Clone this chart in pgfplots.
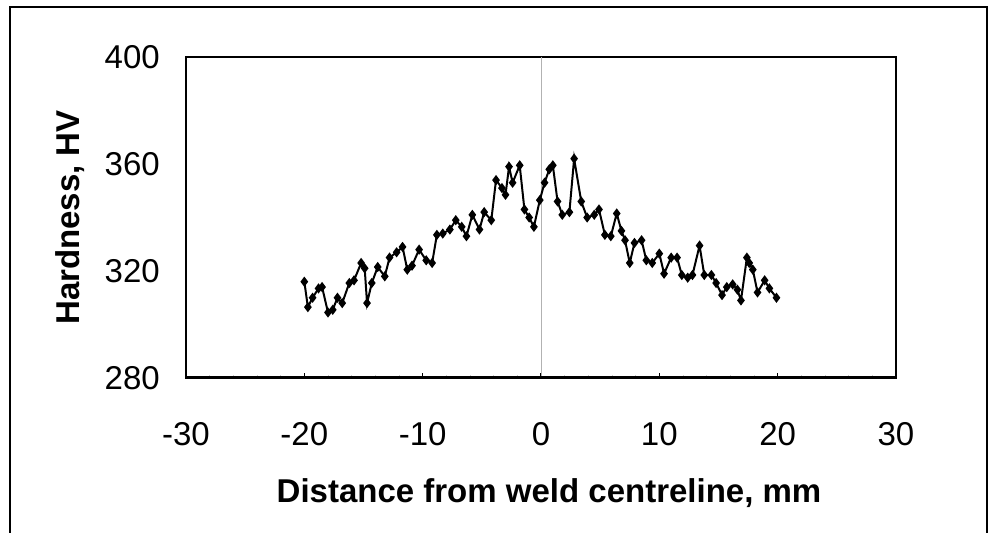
\documentclass[border=0pt]{standalone}
\usepackage{fontspec}
\setmainfont{Liberation Sans}
\usepackage{pgfplots}
\pgfplotsset{compat=1.18}
\begin{document}
\begin{tikzpicture}
\useasboundingbox (0,0) rectangle (997pt,533pt);
\draw[line width=2pt] (10pt,-5pt) -- (10pt,526pt) -- (987pt,526pt) -- (987pt,-5pt);
\begin{axis}[
  at={(186pt,155pt)}, anchor=south west,
  scale only axis, width=710pt, height=321pt,
  xmin=-30, xmax=30, ymin=280, ymax=400,
  xtick={-30,-20,...,30}, ytick={280,320,360,400},
  minor x tick num=4,
  axis line style={line width=2pt},
  major tick length=5pt, minor tick length=3pt,
  tick style={black, line width=1pt},
  minor tick style={gray!40, line width=0.6pt},
  ytick style={draw=none},
  tick align=inside,
  xtick pos=bottom,
  /pgf/number format/assume math mode=true,
  tick label style={font=\fontsize{33}{40}\selectfont, inner sep=0pt},
  xticklabel style={anchor=base, yshift=-68pt},
  yticklabel style={anchor=east, xshift=-26pt},
  xlabel={\textbf{Distance from weld centreline, mm}},
  ylabel={\textbf{Hardness, HV}},
  label style={font=\fontsize{33}{40}\selectfont},
  xlabel style={at={(axis description cs:0.5113,-0.389)}, anchor=base},
  ylabel style={at={(axis description cs:-0.1634,0.5)}, anchor=center},
]
\draw[gray!60, line width=0.8pt] (axis cs:0,280) -- (axis cs:0,400);
\draw[line width=4pt] (axis cs:-30,280) -- (axis cs:30,280);
\addplot[black, line width=2pt, mark=diamond*, mark size=3.5pt] coordinates {
(-20.0,316) (-19.7,306.5) (-19.3,310) (-18.8,313.5) (-18.5,314) (-18.0,304.5)
(-17.6,305.5) (-17.2,310) (-16.8,308) (-16.2,315.5) (-15.8,316.5) (-15.2,323)
(-14.9,321) (-14.7,308) (-14.3,315.5) (-13.8,321.5) (-13.2,318) (-12.8,325)
(-12.2,327) (-11.7,329) (-11.3,320.5) (-10.9,322) (-10.3,328) (-9.7,324)
(-9.2,323) (-8.8,333.5) (-8.3,334) (-7.7,335.5) (-7.2,339) (-6.7,336.5)
(-6.3,333) (-5.8,341) (-5.2,335.5) (-4.8,342) (-4.2,339) (-3.8,354)
(-3.3,351) (-3.0,348.5) (-2.7,359) (-2.4,353) (-1.8,359.5) (-1.4,343)
(-1.0,340) (-0.6,336.5) (-0.1,346.5) (0.3,353) (0.7,358) (1.0,359.5)
(1.4,346) (1.8,341) (2.4,342) (2.8,362) (3.4,346) (3.9,340)
(4.5,341) (4.9,343) (5.4,333.5) (5.9,333) (6.4,341.5) (6.8,335)
(7.1,331.5) (7.5,323) (7.9,330.5) (8.5,331.5) (8.9,324) (9.4,323)
(10.0,326.5) (10.4,319) (11.0,325) (11.5,325) (11.9,318.5) (12.4,317.5)
(12.8,318.5) (13.4,329.5) (13.8,318.5) (14.4,318.5) (14.8,315.5) (15.3,311)
(15.7,314) (16.2,315) (16.6,313) (16.9,309) (17.4,325) (17.6,323)
(17.9,320.5) (18.3,312) (18.9,316.5) (19.3,313.5) (19.9,310)
};
\end{axis}
\end{tikzpicture}
\end{document}
